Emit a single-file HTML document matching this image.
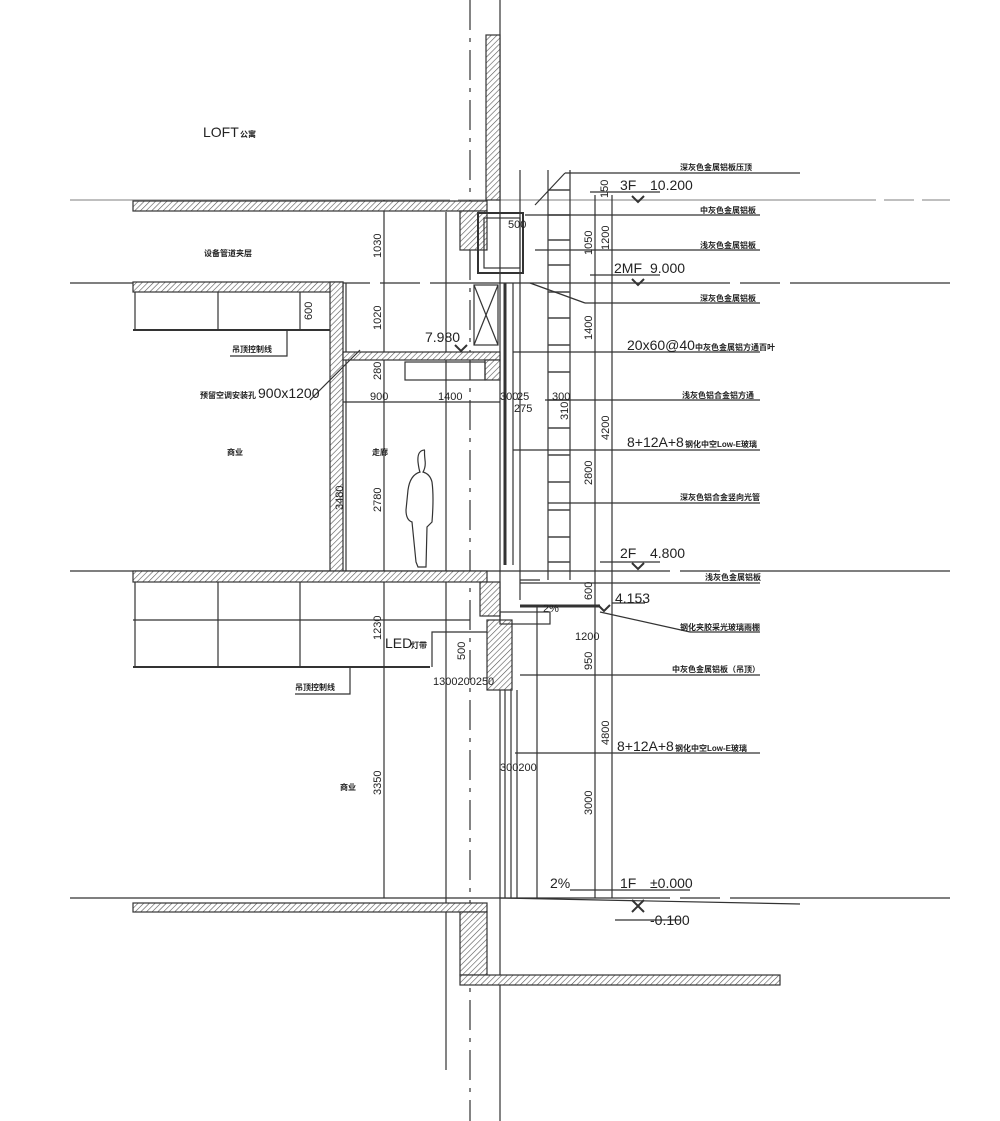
<!DOCTYPE html>
<html><head><meta charset="utf-8"><style>
body{margin:0;background:#fff}
svg{display:block}
text{font-family:"Liberation Sans","Noto Sans CJK SC",sans-serif;fill:#222}
.t{font-size:8px;font-weight:bold}
.n{font-size:11px}
.b{font-size:14px}
</style></head><body>
<svg width="1000" height="1121" viewBox="0 0 1000 1121" xmlns="http://www.w3.org/2000/svg">
<defs>
<pattern id="h" width="4" height="4" patternUnits="userSpaceOnUse" patternTransform="rotate(45)">
<rect width="4" height="4" fill="#fff"/><line x1="0" y1="0" x2="0" y2="4" stroke="#555" stroke-width="1.2"/></pattern>
</defs>
<g stroke="#333" fill="none" stroke-width="1.2">
<line x1="70" y1="200" x2="950" y2="200" stroke-dasharray="380,8,30,8" stroke="#999"/>
<line x1="70" y1="283" x2="950" y2="283" stroke-dasharray="300,10,40,10"/>
<line x1="70" y1="571" x2="950" y2="571" stroke-dasharray="600,10,40,10"/>
<line x1="70" y1="898" x2="950" y2="898" stroke-dasharray="600,10,40,10"/>
<line x1="470" y1="0" x2="470" y2="1121" stroke-dasharray="30,8,4,8"/>
<line x1="446" y1="212" x2="446" y2="1070"/>
<line x1="500" y1="0" x2="500" y2="1121"/>
<line x1="384" y1="200" x2="384" y2="898"/>
<line x1="346" y1="283" x2="346" y2="571"/>
<rect x="486" y="35" width="14" height="165" fill="url(#h)"/>
<rect x="133" y="201" width="354" height="10" fill="url(#h)"/>
<rect x="460" y="211" width="27" height="39" fill="url(#h)"/>
<rect x="478" y="213" width="45" height="60" stroke-width="2"/>
<rect x="484" y="218" width="36" height="50"/>
<rect x="133" y="282" width="210" height="10" fill="url(#h)"/>
<rect x="330" y="282" width="13" height="289" fill="url(#h)"/>
<line x1="133" y1="330" x2="330" y2="330" stroke-width="2"/>
<line x1="135" y1="292" x2="135" y2="330"/><line x1="218" y1="292" x2="218" y2="330"/><line x1="300" y1="292" x2="300" y2="330"/>
<polyline points="287,330 287,356 230,356"/>
<rect x="343" y="352" width="157" height="8" fill="url(#h)"/>
<rect x="485" y="360" width="15" height="20" fill="url(#h)"/>
<rect x="405" y="362" width="80" height="18"/>
<rect x="474" y="285" width="24" height="60"/>
<line x1="474" y1="285" x2="498" y2="345"/><line x1="498" y1="285" x2="474" y2="345"/>
<line x1="343" y1="402" x2="500" y2="402"/>
<line x1="310" y1="400" x2="360" y2="350"/>
<path d="M425 450 q-8 0 -7 12 q1 8 2 10 q-10 3 -12 18 l-2 20 q0 10 6 12 l4 40 l2 5 l8 0 l1 -40 l5 -5 q2 -25 0 -40 q-2 -8 -9 -10 q3 -5 2 -12 q-1 -10 0 -10z" fill="#fff"/>
<rect x="133" y="571" width="354" height="11" fill="url(#h)"/>
<rect x="480" y="582" width="20" height="34" fill="url(#h)"/>
<line x1="133" y1="620" x2="470" y2="620"/>
<line x1="133" y1="667" x2="430" y2="667" stroke-width="2"/>
<line x1="135" y1="582" x2="135" y2="667"/><line x1="218" y1="582" x2="218" y2="667"/><line x1="300" y1="582" x2="300" y2="667"/>
<polyline points="350,667 350,694 295,694"/>
<polyline points="432,667 432,632 470,632 500,632"/>
<rect x="487" y="620" width="25" height="70" fill="url(#h)"/>
<rect x="500" y="612" width="50" height="12"/>
<line x1="505" y1="283" x2="505" y2="565" stroke-width="3"/>
<line x1="513" y1="283" x2="513" y2="565"/>
<line x1="505" y1="690" x2="505" y2="898"/><line x1="511" y1="690" x2="511" y2="898"/><line x1="517" y1="690" x2="517" y2="898"/>
<line x1="520" y1="170" x2="520" y2="600"/>
<line x1="548" y1="170" x2="548" y2="580"/>
<line x1="570" y1="170" x2="570" y2="580"/>
<g stroke="#444" stroke-width="1.6">
<path d="M548 190h22M548 215h22M548 240h22M548 265h22M548 292h22M548 318h22M548 345h22M548 372h22M548 400h22M548 428h22M548 455h22M548 482h22M548 510h22M548 537h22M548 562h22"/>
</g>
<line x1="540" y1="580" x2="520" y2="580"/>
<line x1="520" y1="606" x2="600" y2="606" stroke-width="3"/>
<rect x="133" y="903" width="354" height="9" fill="url(#h)"/>
<rect x="460" y="912" width="27" height="63" fill="url(#h)"/>
<rect x="460" y="975" width="320" height="10" fill="url(#h)"/>
<line x1="500" y1="898" x2="800" y2="904"/>
<line x1="595" y1="195" x2="595" y2="898"/>
<line x1="612" y1="195" x2="612" y2="898"/>
<line x1="537" y1="605" x2="537" y2="898"/>
<line x1="535" y1="205" x2="565" y2="173"/><line x1="565" y1="173" x2="800" y2="173"/>
<line x1="525" y1="215" x2="760" y2="215"/>
<line x1="535" y1="250" x2="760" y2="250"/>
<line x1="530" y1="283" x2="585" y2="303"/><line x1="585" y1="303" x2="760" y2="303"/>
<line x1="513" y1="352" x2="760" y2="352"/>
<line x1="545" y1="400" x2="760" y2="400"/>
<line x1="513" y1="450" x2="760" y2="450"/>
<line x1="548" y1="503" x2="760" y2="503"/>
<line x1="520" y1="583" x2="760" y2="583"/>
<line x1="600" y1="612" x2="690" y2="632"/><line x1="690" y1="632" x2="760" y2="632"/>
<line x1="520" y1="675" x2="760" y2="675"/>
<line x1="515" y1="753" x2="760" y2="753"/>
<line x1="590" y1="192" x2="660" y2="192"/>
<line x1="590" y1="275" x2="660" y2="275"/>
<line x1="600" y1="562" x2="660" y2="562"/>
<line x1="570" y1="890" x2="690" y2="890"/>
<line x1="612" y1="603" x2="645" y2="603"/>
<line x1="615" y1="920" x2="680" y2="920"/>
<path d="M632 196l6 6 6-6" stroke-width="2"/>
<path d="M632 279l6 6 6-6" stroke-width="2"/>
<path d="M632 563l6 6 6-6" stroke-width="2"/>
<path d="M455 345l6 6 6-6" stroke-width="2"/>
<path d="M598 605l6 6 6-6" stroke-width="2"/>
<path d="M632 900l6 6 6-6 M632 912l6-6 6 6" stroke-width="2"/>
</g>
<text x="203" y="137" class="b">LOFT</text><text x="240" y="137" class="t">公寓</text>
<text x="204" y="256" class="t">设备管道夹层</text>
<text x="232" y="352" class="t">吊顶控制线</text>
<text x="200" y="398" class="t">预留空调安装孔</text><text x="258" y="398" class="b">900x1200</text>
<text x="227" y="455" class="t">商业</text>
<text x="372" y="455" class="t">走廊</text>
<text x="425" y="342" class="b">7.980</text>
<text x="370" y="400" class="n">900</text><text x="438" y="400" class="n">1400</text>
<text x="500" y="400" class="n">300</text><text x="517" y="400" class="n">25</text>
<text x="514" y="412" class="n">275</text><text x="552" y="400" class="n">300</text>
<text x="508" y="228" class="n">500</text>
<text x="385" y="648" class="b">LED</text><text x="411" y="648" class="t">灯带</text>
<text x="433" y="685" class="n">1300200250</text>
<text x="295" y="690" class="t">吊顶控制线</text>
<text x="340" y="790" class="t">商业</text>
<text x="543" y="612" class="n">2%</text>
<text x="500" y="771" class="n">300200</text>
<text x="550" y="888" class="b">2%</text>
<text x="620" y="190" class="b">3F</text><text x="650" y="190" class="b">10.200</text>
<text x="614" y="273" class="b">2MF</text><text x="650" y="273" class="b">9.000</text>
<text x="620" y="558" class="b">2F</text><text x="650" y="558" class="b">4.800</text>
<text x="615" y="603" class="b">4.153</text>
<text x="620" y="888" class="b">1F</text><text x="650" y="888" class="b">±0.000</text>
<text x="650" y="925" class="b">-0.100</text>
<text x="680" y="170" class="t">深灰色金属铝板压顶</text>
<text x="700" y="213" class="t">中灰色金属铝板</text>
<text x="700" y="248" class="t">浅灰色金属铝板</text>
<text x="700" y="301" class="t">深灰色金属铝板</text>
<text x="627" y="350" class="b">20x60@40</text><text x="695" y="350" class="t">中灰色金属铝方通百叶</text>
<text x="682" y="398" class="t">浅灰色铝合金铝方通</text>
<text x="627" y="447" class="b">8+12A+8</text><text x="685" y="447" class="t">钢化中空Low-E玻璃</text>
<text x="680" y="500" class="t">深灰色铝合金竖向光管</text>
<text x="705" y="580" class="t">浅灰色金属铝板</text>
<text x="680" y="630" class="t">钢化夹胶采光玻璃雨棚</text>
<text x="672" y="672" class="t">中灰色金属铝板（吊顶）</text>
<text x="617" y="751" class="b">8+12A+8</text><text x="675" y="751" class="t">钢化中空Low-E玻璃</text>
<text transform="translate(381,258) rotate(-90)" class="n">1030</text>
<text transform="translate(381,330) rotate(-90)" class="n">1020</text>
<text transform="translate(381,380) rotate(-90)" class="n">280</text>
<text transform="translate(381,512) rotate(-90)" class="n">2780</text>
<text transform="translate(343,510) rotate(-90)" class="n">3480</text>
<text transform="translate(312,320) rotate(-90)" class="n">600</text>
<text transform="translate(381,640) rotate(-90)" class="n">1230</text>
<text transform="translate(381,795) rotate(-90)" class="n">3350</text>
<text transform="translate(465,660) rotate(-90)" class="n">500</text>
<text transform="translate(592,255) rotate(-90)" class="n">1050</text>
<text transform="translate(609,250) rotate(-90)" class="n">1200</text>
<text transform="translate(592,340) rotate(-90)" class="n">1400</text>
<text transform="translate(609,440) rotate(-90)" class="n">4200</text>
<text transform="translate(592,485) rotate(-90)" class="n">2800</text>
<text transform="translate(592,600) rotate(-90)" class="n">600</text>
<text transform="translate(592,670) rotate(-90)" class="n">950</text>
<text transform="translate(609,745) rotate(-90)" class="n">4800</text>
<text transform="translate(592,815) rotate(-90)" class="n">3000</text>
<text transform="translate(568,420) rotate(-90)" class="n">310</text>
<text transform="translate(608,198) rotate(-90)" class="n">150</text>
<text x="575" y="640" class="n">1200</text>
</svg>
</body></html>
